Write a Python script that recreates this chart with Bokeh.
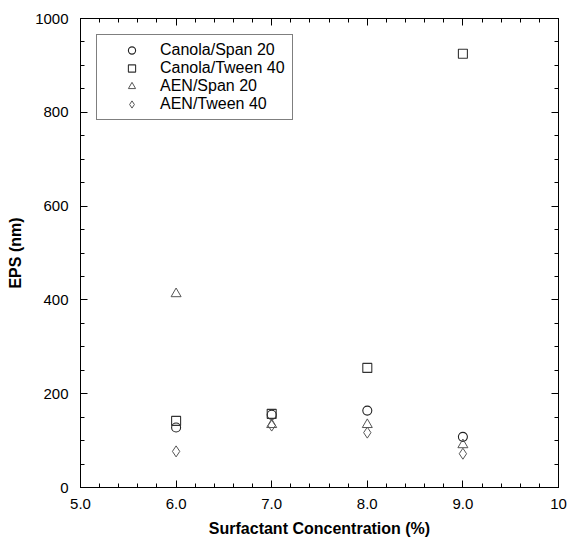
from bokeh.plotting import figure
from bokeh.models import (Range1d, FixedTicker, LinearAxis, Legend, LegendItem,
                          CustomLabelingPolicy)
from bokeh.embed import file_html
from bokeh.resources import INLINE

# ---- data ----
concentration = [6.0, 7.0, 8.0, 9.0]
canola_span20 = [128, 155, 164, 108]
canola_tween40 = [142, 157, 255, 925]
aen_span20 = [413, 134, 134, 91]
aen_tween40 = [77, 132, 117, 72]

x_ticks = [5, 6, 7, 8, 9, 10]
x_tick_labels = ["5.0", "6.0", "7.0", "8.0", "9.0", "10"]
y_ticks = [0, 200, 400, 600, 800, 1000]

FONT = "Liberation Sans"

p = figure(width=567, height=539, output_backend="svg", toolbar_location=None,
           x_range=Range1d(5, 10), y_range=Range1d(0, 1000),
           min_border_left=80, min_border_right=9, min_border_top=18,
           min_border_bottom=51, x_axis_location=None, y_axis_location=None)
p.background_fill_color = "white"
p.border_fill_color = "white"
p.grid.visible = False
p.outline_line_color = "black"
p.outline_line_width = 1


def style_axis(ax, show_labels):
    ax.axis_line_color = "black"
    ax.major_tick_line_color = "black"
    ax.minor_tick_line_color = "black"
    ax.major_tick_in = 7
    ax.major_tick_out = 0
    ax.minor_tick_in = 4
    ax.minor_tick_out = 0
    ax.major_label_text_font = FONT
    ax.major_label_text_font_size = "15px"
    ax.major_label_text_color = "black"
    ax.axis_label_text_font = FONT
    ax.axis_label_text_font_size = "16px"
    ax.axis_label_text_font_style = "bold"
    ax.axis_label_text_color = "black"
    if not show_labels:
        ax.major_label_policy = CustomLabelingPolicy(code="return []")
        ax.major_label_text_font_size = "1px"
        ax.major_label_standoff = 0


x_minor = [5 + 0.2 * i for i in range(26)]
y_minor = [50 * i for i in range(21)]

xb = LinearAxis(ticker=FixedTicker(ticks=x_ticks, minor_ticks=x_minor),
                axis_label="Surfactant Concentration (%)")
xb.major_label_overrides = {t: l for t, l in zip(x_ticks, x_tick_labels)}
style_axis(xb, True)
xb.major_label_standoff = 11
xb.axis_label_standoff = 8
p.add_layout(xb, "below")

xt = LinearAxis(ticker=FixedTicker(ticks=x_ticks, minor_ticks=x_minor))
style_axis(xt, False)
p.add_layout(xt, "above")

yl = LinearAxis(ticker=FixedTicker(ticks=y_ticks, minor_ticks=y_minor),
                axis_label="EPS (nm)")
style_axis(yl, True)
yl.major_label_standoff = 12
yl.axis_label_standoff = 8
p.add_layout(yl, "left")

yr = LinearAxis(ticker=FixedTicker(ticks=y_ticks, minor_ticks=y_minor))
style_axis(yr, False)
p.add_layout(yr, "right")

r1 = p.scatter(concentration, canola_span20, marker="circle", size=9,
               fill_color=None, line_color="#222222", line_width=1.1)
r2 = p.scatter(concentration, canola_tween40, marker="square", size=9,
               fill_color=None, line_color="#333333", line_width=1.1)
r3 = p.scatter(concentration, aen_span20, marker="triangle", size=10,
               fill_color=None, line_color="#555555", line_width=1)
r4 = p.scatter(concentration, aen_tween40, marker="diamond", size=11,
               fill_color=None, line_color="#555555", line_width=1)

legend = Legend(items=[
    LegendItem(label="Canola/Span 20", renderers=[r1]),
    LegendItem(label="Canola/Tween 40", renderers=[r2]),
    LegendItem(label="AEN/Span 20", renderers=[r3]),
    LegendItem(label="AEN/Tween 40", renderers=[r4]),
], location="top_left")
legend.margin = 16
legend.padding = 6
legend.spacing = 0
legend.glyph_width = 57
legend.glyph_height = 18
legend.label_height = 18
legend.label_width = 126
legend.label_standoff = 0
legend.label_text_font = FONT
legend.label_text_font_size = "16px"
legend.label_text_color = "black"
legend.border_line_color = "black"
legend.border_line_width = 1
legend.background_fill_color = "white"
legend.background_fill_alpha = 1
p.add_layout(legend, "center")

open("out.html", "w").write(file_html(p, INLINE))
